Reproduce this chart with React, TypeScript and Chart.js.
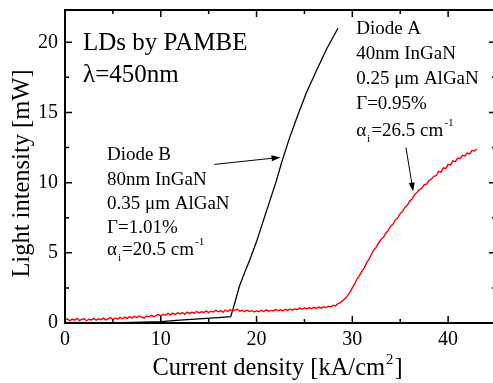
import React, { useEffect, useRef } from "react";
import { Chart, registerables } from "chart.js";
Chart.register(...registerables);

const FONT = "'Liberation Serif', 'Times New Roman', serif";

// Diode B (black)
const diodeBCurrent = [0, 3, 6, 8, 10, 12, 14, 16, 17.3, 17.5, 17.8, 18.2, 18.7, 19.3, 20, 21, 22.1, 22.6, 23.4, 24.3, 25.2, 26.2, 27.3, 28.5];
const diodeBPower = [0, 0.01, 0.03, 0.06, 0.1, 0.2, 0.3, 0.38, 0.45, 0.9, 1.6, 2.6, 3.5, 4.5, 5.8, 7.9, 10.2, 11.4, 13.1, 14.8, 16.4, 17.9, 19.5, 21.0];

// Diode A (red)
const diodeACurrent = [
  0, 0.25, 0.5, 0.75, 1, 1.25, 1.5, 1.75, 2, 2.25, 2.5, 2.75, 3, 3.25, 3.5, 3.75, 4, 4.25, 4.5, 4.75,
  5, 5.25, 5.5, 5.75, 6, 6.25, 6.5, 6.75, 7, 7.25, 7.5, 7.75, 8, 8.25, 8.5, 8.75, 9, 9.25, 9.5, 9.75,
  10, 10.25, 10.5, 10.75, 11, 11.25, 11.5, 11.75, 12, 12.25, 12.5, 12.75, 13, 13.25, 13.5, 13.75, 14, 14.25, 14.5, 14.75,
  15, 15.25, 15.5, 15.75, 16, 16.25, 16.5, 16.75, 17, 17.25, 17.5, 17.75, 18, 18.25, 18.5, 18.75, 19, 19.25, 19.5, 19.75,
  20, 20.25, 20.5, 20.75, 21, 21.25, 21.5, 21.75, 22, 22.25, 22.5, 22.75, 23, 23.25, 23.5, 23.75, 24, 24.25, 24.5, 24.75,
  25, 25.25, 25.5, 25.75, 26, 26.25, 26.5, 26.75, 27, 27.25, 27.5, 27.75, 28, 28.25, 28.5, 28.75, 29, 29.25, 29.5, 29.75,
  30, 30.25, 30.5, 30.75, 31, 31.25, 31.5, 31.75, 32, 32.25, 32.5, 32.75, 33, 33.25, 33.5, 33.75, 34, 34.25, 34.5, 34.75,
  35, 35.25, 35.5, 35.75, 36, 36.25, 36.5, 36.75, 37, 37.25, 37.5, 37.75, 38, 38.25, 38.5, 38.75, 39, 39.25, 39.5, 39.75,
  40, 40.25, 40.5, 40.75, 41, 41.25, 41.5, 41.75, 42, 42.25, 42.5, 42.75, 43,
];
const diodeAPower = [
  0.18, 0.3, 0.15, 0.28, 0.2, 0.32, 0.17, 0.25, 0.3, 0.16, 0.27, 0.22, 0.33, 0.2, 0.3, 0.24, 0.35, 0.22, 0.3, 0.38,
  0.25, 0.36, 0.28, 0.4, 0.3, 0.42, 0.33, 0.45, 0.35, 0.48, 0.38, 0.5, 0.42, 0.35, 0.5, 0.44, 0.55, 0.45, 0.52, 0.6,
  0.5, 0.62, 0.55, 0.68, 0.58, 0.7, 0.6, 0.72, 0.65, 0.75, 0.62, 0.78, 0.68, 0.76, 0.7, 0.82, 0.72, 0.8, 0.75, 0.86,
  0.74, 0.84, 0.78, 0.9, 0.8, 0.88, 0.78, 0.92, 0.82, 0.95, 0.85, 0.92, 0.98, 0.84, 0.9, 0.8, 0.92, 0.82, 0.88, 0.78,
  0.86, 0.8, 0.9, 0.82, 0.94, 0.84, 0.9, 0.86, 0.96, 0.88, 0.94, 0.86, 0.98, 0.9, 1.0, 0.92, 1.02, 0.95, 1.06, 0.98,
  1.08, 1.0, 1.1, 1.02, 1.12, 1.04, 1.14, 1.06, 1.16, 1.1, 1.2, 1.14, 1.26, 1.22, 1.38, 1.45, 1.6, 1.75, 1.95, 2.2,
  2.5, 2.8, 3.15, 3.4, 3.7, 3.95, 4.3, 4.55, 4.9, 5.2, 5.4, 5.7, 5.95, 6.1, 6.4, 6.6, 6.9, 7.05, 7.35, 7.5,
  7.8, 7.95, 8.25, 8.4, 8.7, 8.85, 9.15, 9.3, 9.5, 9.6, 9.85, 9.9, 10.15, 10.25, 10.45, 10.5, 10.8, 10.75, 11.05, 11.0,
  11.3, 11.25, 11.55, 11.5, 11.75, 11.7, 11.95, 11.9, 12.1, 12.05, 12.3, 12.25, 12.4,
];

const xTicks = [0, 10, 20, 30, 40];
const xMinorTicks = [5, 15, 25, 35];
const yTicks = [0, 5, 10, 15, 20];
const yMinorTicks = [2.5, 7.5, 12.5, 17.5];

const xTitle = "Current density [kA/cm";
const xTitleSup = "2";
const xTitleEnd = "]";
const yTitle = "Light intensity [mW]";

const headerLines = ["LDs by PAMBE", "λ=450nm"];
const diodeBLines = ["Diode B", "80nm InGaN", "0.35 μm AlGaN", "Γ=1.01%"];
const diodeBAlpha = "=20.5 cm";
const diodeALines = ["Diode A", "40nm InGaN", "0.25 μm AlGaN", "Γ=0.95%"];
const diodeAAlpha = "=26.5 cm";

// annotation placement (data coordinates)
const headerPos = { x: 1.88, ys: [19.47, 17.19] };
const diodeBPos = { x: 4.38, ys: [11.58, 9.84, 8.13, 6.44, 4.85] };
const diodeAPos = { x: 30.4, ys: [20.59, 18.83, 17.05, 15.24, 13.29] };
const arrowB = { x0: 15.6, y0: 11.3, x1: 22.5, y1: 11.8 };
const arrowA = { x0: 35.6, y0: 12.5, x1: 36.35, y1: 9.36 };

function drawArrow(ctx: CanvasRenderingContext2D, x0: number, y0: number, x1: number, y1: number) {
  const ang = Math.atan2(y1 - y0, x1 - x0);
  const len = 9;
  const w = 3;
  ctx.save();
  ctx.strokeStyle = "#000";
  ctx.fillStyle = "#000";
  ctx.lineWidth = 1;
  ctx.beginPath();
  ctx.moveTo(x0, y0);
  ctx.lineTo(x1 - Math.cos(ang) * len * 0.8, y1 - Math.sin(ang) * len * 0.8);
  ctx.stroke();
  ctx.beginPath();
  ctx.moveTo(x1, y1);
  ctx.lineTo(x1 - Math.cos(ang) * len - Math.sin(ang) * w, y1 - Math.sin(ang) * len + Math.cos(ang) * w);
  ctx.lineTo(x1 - Math.cos(ang) * len + Math.sin(ang) * w, y1 - Math.sin(ang) * len - Math.cos(ang) * w);
  ctx.closePath();
  ctx.fill();
  ctx.restore();
}

function drawAlphaLine(ctx: CanvasRenderingContext2D, x: number, y: number, rest: string, size: number) {
  ctx.font = `${size}px ${FONT}`;
  ctx.fillText("α", x, y);
  let cx = x + ctx.measureText("α").width;
  ctx.font = `${size * 0.6}px ${FONT}`;
  ctx.fillText("i", cx + 1, y + 6);
  cx += ctx.measureText("i").width + 2;
  ctx.font = `${size}px ${FONT}`;
  ctx.fillText(rest, cx, y);
  cx += ctx.measureText(rest).width + 1;
  ctx.font = `${size * 0.6}px ${FONT}`;
  ctx.fillText("-1", cx, y - 10);
}

const overlayPlugin = {
  id: "overlay",
  afterDraw(chart: any) {
    const ctx: CanvasRenderingContext2D = chart.ctx;
    const { left, right, top, bottom } = chart.chartArea;
    const xs = chart.scales.x;
    const ys = chart.scales.y;
    ctx.save();
    // frame
    ctx.strokeStyle = "#000";
    ctx.lineWidth = 2;
    ctx.strokeRect(left, top, right - left, bottom - top);
    // ticks (inward)
    const major = 7;
    const minor = 4;
    ctx.lineWidth = 1.5;
    ctx.beginPath();
    const xt = (v: number, l: number) => {
      const p = xs.getPixelForValue(v);
      ctx.moveTo(p, bottom);
      ctx.lineTo(p, bottom - l);
      ctx.moveTo(p, top);
      ctx.lineTo(p, top + l);
    };
    const yt = (v: number, l: number) => {
      const p = ys.getPixelForValue(v);
      ctx.moveTo(left, p);
      ctx.lineTo(left + l, p);
      ctx.moveTo(right, p);
      ctx.lineTo(right - l, p);
    };
    xTicks.forEach((v) => xt(v, major));
    xMinorTicks.forEach((v) => xt(v, minor));
    yTicks.forEach((v) => yt(v, major));
    yMinorTicks.forEach((v) => yt(v, minor));
    ctx.stroke();

    // text
    ctx.fillStyle = "#000";
    ctx.textAlign = "left";
    ctx.textBaseline = "alphabetic";
    ctx.font = `25px ${FONT}`;
    headerLines.forEach((t, i) => ctx.fillText(t, xs.getPixelForValue(headerPos.x), ys.getPixelForValue(headerPos.ys[i])));

    const fs = 19;
    ctx.font = `${fs}px ${FONT}`;
    diodeBLines.forEach((t, i) => ctx.fillText(t, xs.getPixelForValue(diodeBPos.x), ys.getPixelForValue(diodeBPos.ys[i])));
    drawAlphaLine(ctx, xs.getPixelForValue(diodeBPos.x), ys.getPixelForValue(diodeBPos.ys[4]), diodeBAlpha, fs);
    ctx.font = `${fs}px ${FONT}`;
    diodeALines.forEach((t, i) => ctx.fillText(t, xs.getPixelForValue(diodeAPos.x), ys.getPixelForValue(diodeAPos.ys[i])));
    drawAlphaLine(ctx, xs.getPixelForValue(diodeAPos.x), ys.getPixelForValue(diodeAPos.ys[4]), diodeAAlpha, fs);

    drawArrow(ctx, xs.getPixelForValue(arrowB.x0), ys.getPixelForValue(arrowB.y0), xs.getPixelForValue(arrowB.x1), ys.getPixelForValue(arrowB.y1));
    drawArrow(ctx, xs.getPixelForValue(arrowA.x0), ys.getPixelForValue(arrowA.y0), xs.getPixelForValue(arrowA.x1), ys.getPixelForValue(arrowA.y1));

    // axis titles
    const tf = 24.5;
    ctx.font = `${tf}px ${FONT}`;
    const w1 = ctx.measureText(xTitle).width;
    const w3 = ctx.measureText(xTitleEnd).width;
    ctx.font = `${tf * 0.6}px ${FONT}`;
    const w2 = ctx.measureText(xTitleSup).width;
    const total = w1 + w2 + w3 + 2;
    const cx = (left + right) / 2 - 3;
    let sx = cx - total / 2;
    const by = 375;
    ctx.font = `${tf}px ${FONT}`;
    ctx.fillText(xTitle, sx, by);
    sx += w1 + 1;
    ctx.font = `${tf * 0.6}px ${FONT}`;
    ctx.fillText(xTitleSup, sx, by - 11);
    sx += w2 + 1;
    ctx.font = `${tf}px ${FONT}`;
    ctx.fillText(xTitleEnd, sx, by);

    ctx.save();
    ctx.translate(29, (top + bottom) / 2 + 7);
    ctx.rotate(-Math.PI / 2);
    ctx.textAlign = "center";
    ctx.font = `${tf}px ${FONT}`;
    ctx.fillText(yTitle, 0, 0);
    ctx.restore();

    ctx.restore();
  },
};

export default function App() {
  const ref = useRef<HTMLCanvasElement>(null);
  useEffect(() => {
    if (!ref.current) return;
    const chart = new Chart(ref.current, {
      type: "line",
      data: {
        datasets: [
          {
            label: "Diode A",
            data: diodeACurrent.map((x, i) => ({ x, y: diodeAPower[i] })),
            borderColor: "#ff0000",
            borderWidth: 1.4,
            pointRadius: 0,
            tension: 0,
          },
          {
            label: "Diode B",
            data: diodeBCurrent.map((x, i) => ({ x, y: diodeBPower[i] })),
            borderColor: "#000000",
            borderWidth: 1.3,
            pointRadius: 0,
            tension: 0,
          },
        ],
      },
      options: {
        animation: false,
        responsive: false,
        devicePixelRatio: 1,
        layout: { padding: { top: 10, right: 2, left: 0, bottom: 0 } },
        plugins: { legend: { display: false }, tooltip: { enabled: false } },
        scales: {
          x: {
            type: "linear",
            min: 0,
            max: 45,
            grid: { display: false, drawTicks: false },
            border: { display: false },
            afterBuildTicks: (s: any) => {
              s.ticks = xTicks.map((v) => ({ value: v }));
            },
            afterFit: (s: any) => {
              s.height = 60;
              s.paddingLeft = 0;
              s.paddingRight = 0;
            },
            ticks: { font: { family: FONT, size: 20 }, color: "#000", padding: 5, maxRotation: 0 },
          },
          y: {
            type: "linear",
            min: 0,
            max: 22.3,
            grid: { display: false, drawTicks: false },
            border: { display: false },
            afterBuildTicks: (s: any) => {
              s.ticks = yTicks.map((v) => ({ value: v }));
            },
            afterFit: (s: any) => {
              s.width = 65;
              s.paddingTop = 0;
              s.paddingBottom = 0;
            },
            ticks: { font: { family: FONT, size: 20 }, color: "#000", padding: 7 },
          },
        },
      },
      plugins: [overlayPlugin],
    } as any);
    return () => chart.destroy();
  }, []);
  return (
    <div style={{ position: "fixed", left: 0, top: 0, width: 493, height: 383, overflow: "hidden", background: "#fff" }}>
      <canvas ref={ref} width={498} height={383} style={{ display: "block" }} />
    </div>
  );
}
